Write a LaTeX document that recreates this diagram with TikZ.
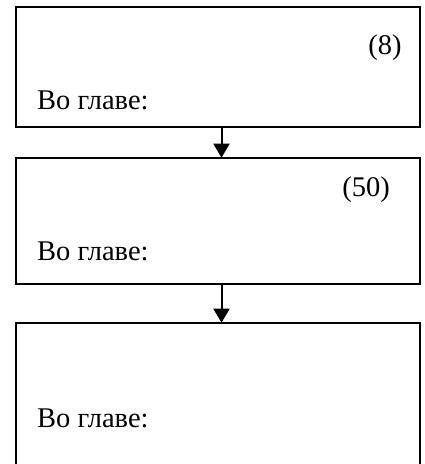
\documentclass[tikz,border=0pt]{standalone}
\usepackage{fontspec}
\setmainfont{Liberation Serif}
\usetikzlibrary{arrows.meta}
\begin{document}
\begin{tikzpicture}[x=1pt,y=-1pt,
  box/.style={draw,line width=2pt},
  lbl/.style={anchor=base west,inner sep=0pt,font=\fontsize{28.5}{33}\selectfont},
  num/.style={anchor=base east,inner sep=0pt,font=\fontsize{28.5}{33}\selectfont},
  conn/.style={line width=2pt,-{Triangle[length=14pt,width=16pt]}}]
\useasboundingbox (0,0) rectangle (424,464);
\clip (0,0) rectangle (424,464);
\draw[box] (15.5,6.5) rectangle (420,126.5);
\coordinate (b1s) at (221.5,126.5);
\draw[box] (15.5,157.7) rectangle (420,284);
\coordinate (b2n) at (221.5,157.7);
\coordinate (b2s) at (221.5,284);
\draw[box] (15.5,322.7) rectangle (420,480);
\coordinate (b3n) at (221.5,322.7);
\node[num] (n1) at (401.7,54) {(8)};
\node[lbl] (t1) at (37,109.3) {Во главе:};
\node[num] (n2) at (390,196.5) {(50)};
\node[lbl] (t2) at (37,260.5) {Во главе:};
\node[lbl] (t3) at (37,427) {Во главе:};
\draw[conn] (b1s) -- (b2n);
\draw[conn] (b2s) -- (b3n);
\end{tikzpicture}
\end{document}
